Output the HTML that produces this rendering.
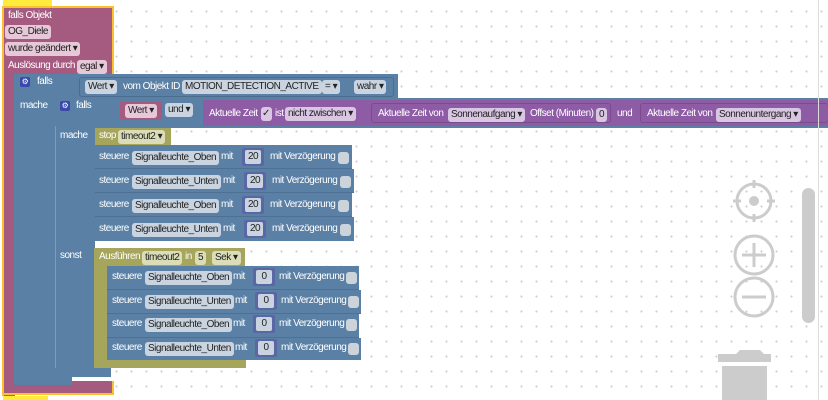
<!DOCTYPE html>
<html><head><meta charset="utf-8"><style>
*{box-sizing:border-box;margin:0;padding:0}
body{width:828px;height:400px;overflow:hidden;position:relative;background:#fff;
background-image:radial-gradient(circle,#ccc 0.8px,transparent 1.2px);background-size:15px 15px;background-position:4px 4px;
font-family:"Liberation Sans",sans-serif;font-size:10px;letter-spacing:-0.5px;color:#fff}
.a{position:absolute}
.t{position:absolute;white-space:nowrap;line-height:14px}
.f{position:absolute;white-space:nowrap;line-height:13px;height:14px;padding:0 3px;border-radius:3px;color:#222;font-size:10px}
.pk{background:#e6c8d8}
.bl{background:#c9d4e0}
.pu{background:#d8c6e2}
.ol{background:#dbdcb8}
.n{position:absolute;background:#5b67a5;border-radius:2px;width:22px;height:18px}
.n span{position:absolute;left:3px;top:2px;width:16px;height:14px;background:#c9d4e0;border-radius:2px;color:#222;font-size:10px;text-align:center;line-height:14px}
.cb{position:absolute;width:11px;height:12px;background:#ccd3db;border-radius:3px}
.blue{background:#5b80a5}
.pink{background:#a55b80}
.olive{background:#a5a55b}
.purp{background:#8e5ba5}
</style></head><body>

<div class="a" style="left:3px;top:0;width:49px;height:6px;background:#ffeb3b"></div>
<div class="a" style="left:3px;top:396px;width:45px;height:4px;background:#ffeb3b"></div>

<div class="a pink" style="left:2px;top:6px;width:112px;height:69px;border:2px solid #fbc02d;border-bottom:none"></div>
<div class="a pink" style="left:2px;top:74px;width:13px;height:322px;border-left:2px solid #fbc02d"></div>
<div class="a pink" style="left:2px;top:381px;width:112px;height:14px;border:2px solid #fbc02d;border-top:none"></div>
<div class="t" style="left:8px;top:9px">falls Objekt</div>
<div class="f pk" style="left:5px;top:25px">OG_Diele</div>
<div class="f pk" style="left:5px;top:42px">wurde geändert ▾</div>
<div class="t" style="left:8px;top:59px">Auslösung durch</div>
<div class="f pk" style="left:77px;top:60px">egal ▾</div>

<div class="a blue" style="left:14px;top:74px;width:384px;height:26px"></div>
<div class="a blue" style="left:14px;top:98px;width:41px;height:287px"></div>
<div class="a blue" style="left:14px;top:376px;width:58px;height:9px"></div>
<div class="a" style="left:20px;top:77px;width:10px;height:10px;background:#3949ab;border-radius:2px;color:#fff;font-size:8px;text-align:center;line-height:10px">⚙</div>
<div class="t" style="left:37px;top:75px">falls</div>
<div class="t" style="left:20px;top:99px">mache</div>
<div class="a" style="left:79px;top:77px;width:315px;height:20px;border:1px solid #4a6c8e;border-radius:3px"></div>
<div class="f bl" style="left:85px;top:80px">Wert ▾</div>
<div class="t" style="left:123px;top:80px">vom Objekt ID</div>
<div class="f bl" style="left:182px;top:80px">MOTION_DETECTION_ACTIVE</div>
<div class="f bl" style="left:322px;top:80px">= ▾</div>
<div class="f bl" style="left:354px;top:80px">wahr ▾</div>

<div class="a blue" style="left:55px;top:98px;width:773px;height:30px"></div>
<div class="a blue" style="left:55px;top:126px;width:40px;height:251px;border-left:1px solid #7f9bb8"></div>
<div class="a blue" style="left:55px;top:368px;width:56px;height:9px"></div>
<div class="a" style="left:60px;top:101px;width:10px;height:10px;background:#3949ab;border-radius:2px;color:#fff;font-size:8px;text-align:center;line-height:10px">⚙</div>
<div class="t" style="left:76px;top:99px">falls</div>
<div class="t" style="left:60px;top:129px">mache</div>
<div class="t" style="left:60px;top:249px">sonst</div>
<div class="a pink" style="left:120px;top:102px;width:42px;height:18px"></div>
<div class="f pk" style="left:125px;top:104px">Wert ▾</div>
<div class="f bl" style="left:165px;top:103px">und ▾</div>
<div class="a purp" style="left:203px;top:100px;width:625px;height:26px"></div>
<div class="t" style="left:209px;top:107px">Aktuelle Zeit</div>
<div class="f pu" style="left:261px;top:107px;width:11px;padding:0 1px">✓</div>
<div class="t" style="left:275px;top:107px">ist</div>
<div class="f pu" style="left:285px;top:107px">nicht zwischen ▾</div>
<div class="a" style="left:371px;top:103px;width:240px;height:20px;border:1px solid #7a4c8e;border-radius:3px"></div>
<div class="t" style="left:378px;top:107px">Aktuelle Zeit von</div>
<div class="f pu" style="left:448px;top:108px">Sonnenaufgang ▾</div>
<div class="t" style="left:530px;top:107px">Offset (Minuten)</div>
<div class="f pu" style="left:596px;top:108px">0</div>
<div class="t" style="left:617px;top:107px">und</div>
<div class="a" style="left:640px;top:103px;width:188px;height:20px;border:1px solid #7a4c8e;border-right:none;border-radius:3px"></div>
<div class="t" style="left:647px;top:107px">Aktuelle Zeit von</div>
<div class="f pu" style="left:716px;top:108px">Sonnenuntergang ▾</div>

<div class="a olive" style="left:95px;top:128px;width:76px;height:17px"></div>
<div class="t" style="left:99px;top:129px">stop</div>
<div class="f ol" style="left:118px;top:130px">timeout2 ▾</div>

<div class="a blue" style="left:95px;top:145px;width:257px;height:24px;border-bottom:1px solid #4e7094"></div>
<div class="a blue" style="left:95px;top:169px;width:259px;height:24px;border-bottom:1px solid #4e7094"></div>
<div class="a blue" style="left:95px;top:193px;width:257px;height:24px;border-bottom:1px solid #4e7094"></div>
<div class="a blue" style="left:95px;top:217px;width:259px;height:24px"></div>

<div class="t" style="left:99px;top:150px">steuere</div><div class="f bl" style="left:132px;top:151px">Signalleuchte_Oben</div><div class="t" style="left:221px;top:150px">mit</div><div class="n" style="left:242px;top:148px"><span>20</span></div><div class="t" style="left:270px;top:150px">mit Verzögerung</div><div class="cb" style="left:338px;top:152px"></div>
<div class="t" style="left:99px;top:174px">steuere</div><div class="f bl" style="left:132px;top:175px">Signalleuchte_Unten</div><div class="t" style="left:223px;top:174px">mit</div><div class="n" style="left:244px;top:172px"><span>20</span></div><div class="t" style="left:272px;top:174px">mit Verzögerung</div><div class="cb" style="left:340px;top:176px"></div>
<div class="t" style="left:99px;top:198px">steuere</div><div class="f bl" style="left:132px;top:199px">Signalleuchte_Oben</div><div class="t" style="left:221px;top:198px">mit</div><div class="n" style="left:242px;top:196px"><span>20</span></div><div class="t" style="left:270px;top:198px">mit Verzögerung</div><div class="cb" style="left:338px;top:200px"></div>
<div class="t" style="left:99px;top:222px">steuere</div><div class="f bl" style="left:132px;top:223px">Signalleuchte_Unten</div><div class="t" style="left:223px;top:222px">mit</div><div class="n" style="left:244px;top:220px"><span>20</span></div><div class="t" style="left:272px;top:222px">mit Verzögerung</div><div class="cb" style="left:340px;top:224px"></div>

<div class="a olive" style="left:94px;top:248px;width:151px;height:18px"></div>
<div class="a olive" style="left:94px;top:264px;width:13px;height:104px"></div>
<div class="a olive" style="left:94px;top:360px;width:152px;height:8px"></div>
<div class="t" style="left:99px;top:250px">Ausführen</div>
<div class="f ol" style="left:142px;top:251px">timeout2</div>
<div class="t" style="left:185px;top:250px">in</div>
<div class="f ol" style="left:195px;top:251px">5</div>
<div class="f ol" style="left:212px;top:251px">Sek ▾</div>

<div class="a blue" style="left:107px;top:266px;width:252px;height:24px;border-bottom:1px solid #4e7094"></div>
<div class="a blue" style="left:107px;top:290px;width:254px;height:24px;border-bottom:1px solid #4e7094"></div>
<div class="a blue" style="left:107px;top:314px;width:252px;height:24px;border-bottom:1px solid #4e7094"></div>
<div class="a blue" style="left:107px;top:338px;width:254px;height:22px"></div>

<div class="t" style="left:112px;top:270px">steuere</div><div class="f bl" style="left:145px;top:271px">Signalleuchte_Oben</div><div class="t" style="left:233px;top:270px">mit</div><div class="n" style="left:253px;top:268px"><span>0</span></div><div class="t" style="left:279px;top:270px">mit Verzögerung</div><div class="cb" style="left:346px;top:272px"></div>
<div class="t" style="left:112px;top:294px">steuere</div><div class="f bl" style="left:145px;top:295px">Signalleuchte_Unten</div><div class="t" style="left:235px;top:294px">mit</div><div class="n" style="left:255px;top:292px"><span>0</span></div><div class="t" style="left:281px;top:294px">mit Verzögerung</div><div class="cb" style="left:348px;top:296px"></div>
<div class="t" style="left:112px;top:317px">steuere</div><div class="f bl" style="left:145px;top:318px">Signalleuchte_Oben</div><div class="t" style="left:233px;top:317px">mit</div><div class="n" style="left:253px;top:315px"><span>0</span></div><div class="t" style="left:279px;top:317px">mit Verzögerung</div><div class="cb" style="left:346px;top:319px"></div>
<div class="t" style="left:112px;top:341px">steuere</div><div class="f bl" style="left:145px;top:342px">Signalleuchte_Unten</div><div class="t" style="left:235px;top:341px">mit</div><div class="n" style="left:255px;top:339px"><span>0</span></div><div class="t" style="left:281px;top:341px">mit Verzögerung</div><div class="cb" style="left:348px;top:343px"></div>

<div class="a" style="left:818px;top:0;width:1px;height:400px;background:#ddd"></div>
<div class="a" style="left:802px;top:188px;width:13px;height:135px;background:#ccc;border-radius:7px"></div>
<svg class="a" style="left:700px;top:170px" width="110" height="230">
<g stroke="#ccc" stroke-width="3" fill="none">
<circle cx="54" cy="31" r="17"/><line x1="54" y1="10" x2="54" y2="18"/><line x1="54" y1="44" x2="54" y2="52"/><line x1="33" y1="31" x2="41" y2="31"/><line x1="67" y1="31" x2="75" y2="31"/>
<circle cx="54" cy="85" r="19"/><line x1="42" y1="85" x2="66" y2="85"/><line x1="54" y1="73" x2="54" y2="97"/>
<circle cx="54" cy="127" r="19"/><line x1="42" y1="127" x2="66" y2="127"/>
</g>
<circle cx="54" cy="31" r="5" fill="#ccc"/>
<path d="M18 184 H36 L40 180 H60 L64 184 H71 V192 H18 Z" fill="#ccc"/>
<rect x="22" y="196" width="45" height="34" fill="#ccc"/>
</svg>
</body></html>
